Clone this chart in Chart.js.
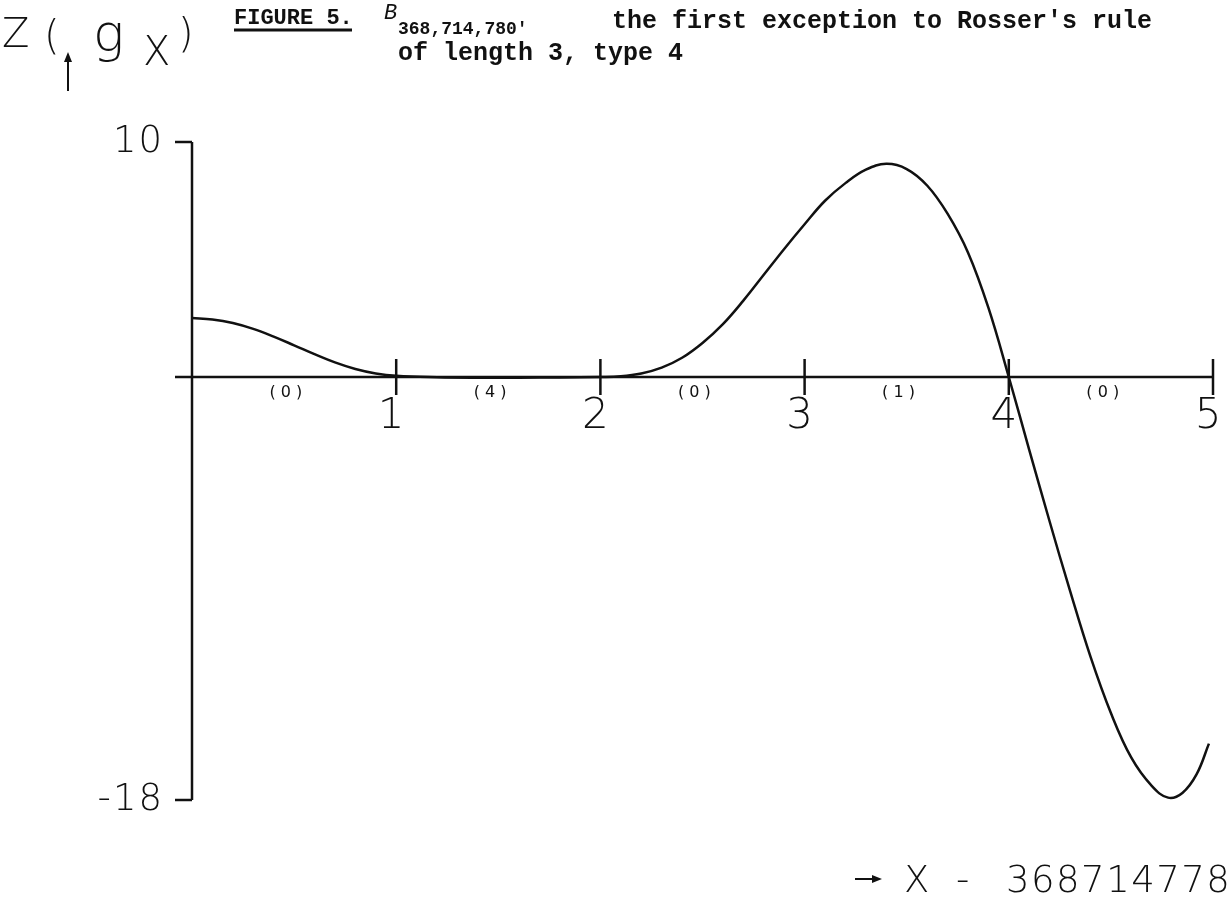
<!DOCTYPE html>
<html>
<head>
<meta charset="utf-8">
<title>Figure 5</title>
<script src="https://cdn.jsdelivr.net/npm/chart.js@4"></script>
<style>
  html, body { margin: 0; padding: 0; background: #fff; }
  #wrap { width: 1231px; height: 899px; position: relative; }
</style>
</head>
<body>
<div id="wrap"><canvas id="grafico"></canvas></div>
<script>
// x - 368714778 (offset from the Gram point) and Z(g_x)
const xValores = [0.0, 0.1, 0.2, 0.3, 0.4, 0.5, 0.6, 0.7, 0.8, 0.9, 1.0,
                  1.2, 1.4, 1.6, 1.8, 2.0,
                  2.1, 2.2, 2.3, 2.4, 2.5, 2.6, 2.7, 2.8, 2.9, 3.0,
                  3.1, 3.2, 3.3, 3.4, 3.5, 3.6, 3.7, 3.8, 3.9, 4.0,
                  4.1, 4.2, 4.3, 4.4, 4.5, 4.6, 4.7, 4.78, 4.85, 4.92, 4.98];
const zValores = [2.51, 2.45, 2.30, 2.05, 1.72, 1.35, 0.97, 0.62, 0.34, 0.15, 0.05,
                  -0.01, -0.03, -0.03, -0.02, 0.00,
                  0.03, 0.15, 0.40, 0.82, 1.45, 2.25, 3.25, 4.35, 5.45, 6.50,
                  7.50, 8.25, 8.82, 9.07, 8.85, 8.15, 6.95, 5.30, 2.95, 0.00,
                  -3.10, -6.15, -9.10, -11.90, -14.30, -16.20, -17.40, -17.90, -17.70, -16.90, -15.60];

const ticksX = [1, 2, 3, 4, 5];
const ticksY = [10, -18];
// number of zeros in each Gram interval
const conteos = ["(0)", "(4)", "(0)", "(1)", "(0)"];

const negro = "#111";
const fuentePlotter = '"DejaVu Sans", sans-serif';
const fuenteMaquina = '"Liberation Mono", "DejaVu Sans Mono", monospace';

function flecha(ctx, x1, y1, x2, y2) {
    // linea con punta rellena en (x2, y2)
    const ang = Math.atan2(y2 - y1, x2 - x1);
    ctx.beginPath();
    ctx.moveTo(x1, y1);
    ctx.lineTo(x2 - 6 * Math.cos(ang), y2 - 6 * Math.sin(ang));
    ctx.stroke();
    ctx.beginPath();
    ctx.moveTo(x2, y2);
    ctx.lineTo(x2 - 10 * Math.cos(ang) + 4 * Math.sin(ang), y2 - 10 * Math.sin(ang) - 4 * Math.cos(ang));
    ctx.lineTo(x2 - 10 * Math.cos(ang) - 4 * Math.sin(ang), y2 - 10 * Math.sin(ang) + 4 * Math.cos(ang));
    ctx.closePath();
    ctx.fill();
}

const ejesPlotter = {
    id: "ejesPlotter",
    beforeDatasetsDraw(chart) {
        const ctx = chart.ctx;
        const sx = chart.scales.x;
        const sy = chart.scales.y;
        const x0 = sx.getPixelForValue(0);
        const y0 = sy.getPixelForValue(0);
        ctx.save();
        ctx.strokeStyle = negro;
        ctx.fillStyle = negro;
        ctx.lineWidth = 2.5;

        // eje y
        ctx.beginPath();
        ctx.moveTo(x0, sy.getPixelForValue(ticksY[0]));
        ctx.lineTo(x0, sy.getPixelForValue(ticksY[1]));
        ctx.stroke();
        ticksY.forEach(v => {
            const py = sy.getPixelForValue(v);
            ctx.beginPath();
            ctx.moveTo(x0 - 17, py);
            ctx.lineTo(x0, py);
            ctx.stroke();
            ctx.font = "200 37px " + fuentePlotter;
            ctx.letterSpacing = "2px";
            ctx.textAlign = "right";
            ctx.textBaseline = "middle";
            ctx.fillText(String(v), x0 - 28, py);
        });
        ctx.letterSpacing = "0px";

        // eje x
        ctx.beginPath();
        ctx.moveTo(x0 - 17, y0);
        ctx.lineTo(sx.getPixelForValue(ticksX[ticksX.length - 1]), y0);
        ctx.stroke();
        ticksX.forEach(v => {
            const px = sx.getPixelForValue(v);
            ctx.beginPath();
            ctx.moveTo(px, y0 - 18);
            ctx.lineTo(px, y0 + 18);
            ctx.stroke();
            ctx.font = "200 42px " + fuentePlotter;
            ctx.textAlign = "center";
            ctx.textBaseline = "top";
            ctx.fillText(String(v), px - 5, y0 + 19);
        });
        conteos.forEach((t, i) => {
            const px = sx.getPixelForValue(i + 0.46);
            ctx.font = "16px " + fuentePlotter;
            ctx.textAlign = "center";
            ctx.textBaseline = "middle";
            ctx.fillText(t.split("").join(" "), px, y0 + 16);
        });
        ctx.restore();
    },
    afterDraw(chart) {
        const ctx = chart.ctx;
        ctx.save();
        ctx.fillStyle = negro;
        ctx.strokeStyle = negro;
        ctx.lineWidth = 2;
        ctx.textBaseline = "alphabetic";
        ctx.textAlign = "left";

        // rotulo del eje y: Z(g_X)
        ctx.font = "200 40px " + fuentePlotter;
        ctx.fillText("Z", 2, 47);
        ctx.fillText("(", 44, 49);
        ctx.font = "200 52px " + fuentePlotter;
        ctx.fillText("g", 93, 51);
        ctx.font = "200 40px " + fuentePlotter;
        ctx.fillText("X", 143, 65);
        ctx.fillText(")", 178, 47);
        flecha(ctx, 68, 91, 68, 52);

        // titulo
        ctx.font = "bold 22px " + fuenteMaquina;
        ctx.fillText("FIGURE 5.", 234, 24);
        ctx.lineWidth = 3;
        ctx.beginPath();
        ctx.moveTo(234, 30);
        ctx.lineTo(352, 30);
        ctx.stroke();
        ctx.font = "italic 22px " + fuenteMaquina;
        ctx.fillText("B", 384, 19);
        ctx.font = "bold 18px " + fuenteMaquina;
        ctx.fillText("368,714,780'", 398, 34);
        ctx.font = "bold 25px " + fuenteMaquina;
        ctx.fillText("the first exception to Rosser's rule", 612, 28);
        ctx.fillText("of length 3, type 4", 398, 60);

        // rotulo del eje x
        ctx.lineWidth = 2;
        flecha(ctx, 855, 879, 882, 879);
        ctx.font = "200 37px " + fuentePlotter;
        ctx.fillText("X", 904, 892);
        ctx.fillText("-", 956, 892);
        ctx.letterSpacing = "1.5px";
        ctx.fillText("368714778", 1006, 892);
        ctx.restore();
    }
};

new Chart(document.getElementById("grafico"), {
    type: "line",
    data: {
        datasets: [{
            label: "Z(g_x)",
            data: xValores.map((x, i) => ({ x: x, y: zValores[i] })),
            borderColor: negro,
            borderWidth: 2.5,
            pointRadius: 0,
            fill: false,
            tension: 0.4,
            clip: false
        }]
    },
    options: {
        responsive: true,
        maintainAspectRatio: false,
        animation: false,
        layout: {
            padding: { left: 192, right: 18, top: 142, bottom: 99 }
        },
        plugins: {
            legend: { display: false },
            tooltip: { enabled: false }
        },
        scales: {
            x: { type: "linear", min: 0, max: 5, display: false },
            y: { type: "linear", min: -18, max: 10, display: false }
        }
    },
    plugins: [ejesPlotter]
});
</script>
</body>
</html>
